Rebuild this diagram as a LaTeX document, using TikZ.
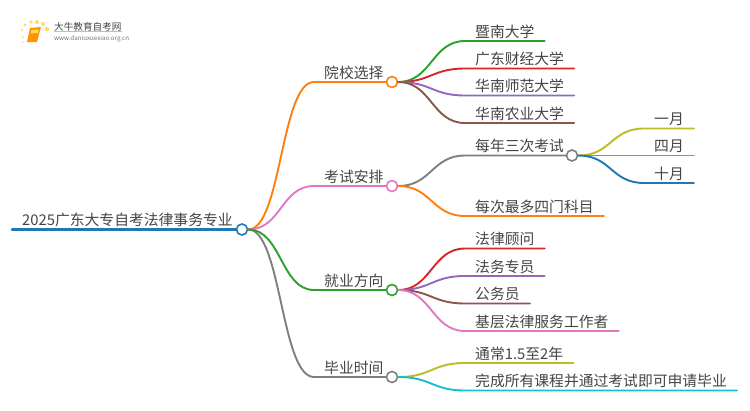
\documentclass[tikz,border=0pt]{standalone}
\usepackage{fontspec}
\setmainfont{Noto Sans CJK SC}
\definecolor{cblue}{HTML}{1F78B4}
\definecolor{corange}{HTML}{FF7F0E}
\definecolor{cpink}{HTML}{E377C2}
\definecolor{cgreen}{HTML}{2CA02C}
\definecolor{cgray}{HTML}{7F7F7F}
\definecolor{cred}{HTML}{D62728}
\definecolor{cpurple}{HTML}{9467BD}
\definecolor{cbrown}{HTML}{8C564B}
\definecolor{colive}{HTML}{BCBD22}
\definecolor{ccyan}{HTML}{17BECF}
\definecolor{ctext}{HTML}{444444}
\tikzset{
    topic/.style={anchor=south west, inner xsep=10pt, inner ysep=0pt, text height=13pt, text depth=3.5pt,
        text=ctext, font=\fontsize{14.8}{16}\selectfont},
    dot/.style={circle, draw=#1, fill=white, line width=1.6pt, minimum size=11pt, inner sep=0pt},
    branch/.style={line width=1.9pt, line cap=round},
}
\begin{document}
\begin{tikzpicture}[x=1pt, y=-1pt]
    \useasboundingbox (0, 0) rectangle (750, 410);

    % logo
    \foreach \px/\py/\pr in {22/30/1.2, 25/25/1.6, 31/22/1.9, 37/22/2.0, 43/24/2.0, 47/29/2.3, 23/37/1.1, 23/42/0.8}
        \fill[orange!45!yellow!60!white] (\px, \py) circle (\pr);
    \fill[orange!85!yellow] (30, 28) -- (41, 27) -- (37, 42) -- (27, 42) -- cycle;
    \fill[orange!40!yellow!70!white] (31.5, 30) -- (39, 29.5) -- (38, 33) -- (30.5, 33.5) -- cycle;
    \node[anchor=west, inner sep=0pt, text=ctext, font=\fontsize{9.6}{10}\selectfont] (logoname) at (54, 27) {大牛教育自考网};
    \draw[black!25, line width=0.5pt] (logoname.south west) -- (logoname.south east);
    \node[anchor=west, inner sep=0pt, text=black!55, font=\fontsize{6.2}{7}\selectfont] (logourl) at (54, 39) {www.daniuxuexiao.org.cn};

    % first level
    \node[dot=cblue] (rootdot) at (242, 229.5) {};
    \node[dot=corange] (xxdot) at (392, 82) {};
    \node[dot=cpink] (ksdot) at (392, 186) {};
    \node[dot=cgreen] (jydot) at (392, 290) {};
    \node[dot=cgray] (bydot) at (392, 377) {};
    \node[dot=cgray] (ccdot) at (572, 155.5) {};

    \node[topic] (root) at (12, 229.5) {2025广东大专自考法律事务专业};
    \node[topic] (xx) at (314, 82) {院校选择};
    \node[topic] (ks) at (314, 186) {考试安排};
    \node[topic] (jy) at (314, 290) {就业方向};
    \node[topic] (by) at (314, 377) {毕业时间};

    \draw[branch, cblue, line width=2.4pt] (root.south west) .. controls +(50, 0) and +(-50, 0) .. (rootdot.west);
    \draw[branch, corange] (rootdot.east) .. controls +(33, 0) and +(-33, 0) .. (xx.south west) -- (xxdot.west);
    \draw[branch, cpink] (rootdot.east) .. controls +(33, 0) and +(-33, 0) .. (ks.south west) -- (ksdot.west);
    \draw[branch, cgray] (rootdot.east) .. controls +(33, 0) and +(-33, 0) .. (by.south west) -- (bydot.west);
    \draw[branch, cgreen] (rootdot.east) .. controls +(33, 0) and +(-33, 0) .. (jy.south west) -- (jydot.west);

    % schools
    \node[topic] (xx1) at (465, 41) {暨南大学};
    \node[topic] (xx2) at (465, 68.5) {广东财经大学};
    \node[topic] (xx3) at (465, 95.5) {华南师范大学};
    \node[topic] (xx4) at (465, 123) {华南农业大学};
    \draw[branch, cgreen] (xxdot.east) .. controls +(33, 0) and +(-33, 0) .. (xx1.south west) -- (xx1.south east);
    \draw[branch, cred] (xxdot.east) .. controls +(33, 0) and +(-33, 0) .. (xx2.south west) -- (xx2.south east);
    \draw[branch, cpurple] (xxdot.east) .. controls +(33, 0) and +(-33, 0) .. (xx3.south west) -- (xx3.south east);
    \draw[branch, cbrown] (xxdot.east) .. controls +(33, 0) and +(-33, 0) .. (xx4.south west) -- (xx4.south east);

    % exams
    \node[topic] (ks1) at (465, 155.5) {每年三次考试};
    \node[topic] (ks2) at (465, 216) {每次最多四门科目};
    \draw[branch, cgray] (ksdot.east) .. controls +(33, 0) and +(-33, 0) .. (ks1.south west) -- (ccdot.west);
    \draw[branch, corange] (ksdot.east) .. controls +(33, 0) and +(-33, 0) .. (ks2.south west) -- (ks2.south east);

    \node[topic] (cc1) at (644, 128.5) {一月};
    \node[topic] (cc2) at (644, 155.5) {四月};
    \node[topic] (cc3) at (644, 183) {十月};
    \draw[branch, colive] (ccdot.east) .. controls +(33, 0) and +(-33, 0) .. (cc1.south west) -- (cc1.south east);
    \draw[branch, ccyan] (ccdot.east) .. controls +(33, 0) and +(-33, 0) .. (cc2.south west) -- (cc2.south east);
    \draw[branch, cblue] (ccdot.east) .. controls +(33, 0) and +(-33, 0) .. (cc3.south west) -- (cc3.south east);

    % jobs
    \node[topic] (jy1) at (465, 248.5) {法律顾问};
    \node[topic] (jy2) at (465, 276) {法务专员};
    \node[topic] (jy3) at (465, 303.5) {公务员};
    \node[topic] (jy4) at (465, 331) {基层法律服务工作者};
    \draw[branch, cred] (jydot.east) .. controls +(33, 0) and +(-33, 0) .. (jy1.south west) -- (jy1.south east);
    \draw[branch, cpurple] (jydot.east) .. controls +(33, 0) and +(-33, 0) .. (jy2.south west) -- (jy2.south east);
    \draw[branch, cbrown] (jydot.east) .. controls +(33, 0) and +(-33, 0) .. (jy3.south west) -- (jy3.south east);
    \draw[branch, cpink] (jydot.east) .. controls +(33, 0) and +(-33, 0) .. (jy4.south west) -- (jy4.south east);

    % graduation
    \node[topic] (by1) at (465, 363) {通常1.5至2年};
    \node[topic] (by2) at (465, 390.5) {完成所有课程并通过考试即可申请毕业};
    \draw[branch, colive] (bydot.east) .. controls +(33, 0) and +(-33, 0) .. (by1.south west) -- (by1.south east);
    \draw[branch, ccyan] (bydot.east) .. controls +(33, 0) and +(-33, 0) .. (by2.south west) -- (by2.south east);
\end{tikzpicture}
\end{document}
